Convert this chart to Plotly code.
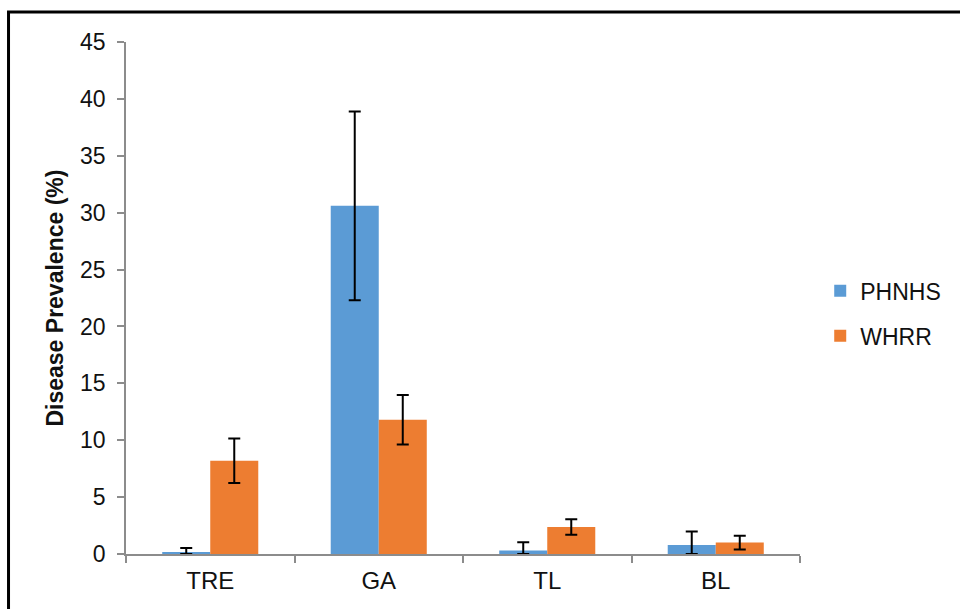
import plotly.graph_objects as go

# Disease prevalence by lesion type for the two sites
categories = ["TRE", "GA", "TL", "BL"]
phnhs = [0.15, 30.6, 0.3, 0.8]
phnhs_err = [0.38, 8.3, 0.73, 1.17]
whrr = [8.2, 11.8, 2.37, 1.0]
whrr_err = [1.95, 2.17, 0.68, 0.6]

BLUE = "#5B9BD5"
ORANGE = "#ED7D31"
AXIS = "#8C8C8C"
FONT = "Liberation Sans, Arial, sans-serif"


def err_bars(vals, errs):
    # Lower whiskers stop at the zero baseline
    return dict(
        type="data",
        symmetric=False,
        array=errs,
        arrayminus=[min(e, v) for v, e in zip(vals, errs)],
        color="black",
        thickness=2,
        width=6,
    )


fig = go.Figure()
fig.add_trace(go.Bar(
    name="PHNHS", x=categories, y=phnhs, marker=dict(color=BLUE, line=dict(width=0)),
    error_y=err_bars(phnhs, phnhs_err), legendgroup="a",
))
fig.add_trace(go.Bar(
    name="WHRR", x=categories, y=whrr, marker=dict(color=ORANGE, line=dict(width=0)),
    error_y=err_bars(whrr, whrr_err), legendgroup="b",
))

fig.update_layout(
    width=960, height=609,
    margin=dict(l=126, r=160, t=42, b=55),
    paper_bgcolor="white", plot_bgcolor="white",
    font=dict(family=FONT, size=22, color="#111111"),
    barmode="group", bargap=0.43, bargroupgap=0,
    showlegend=True,
    legend=dict(
        x=1.03, y=0.47, xanchor="left", yanchor="middle",
        font=dict(size=23, family=FONT, color="#111111"),
        tracegroupgap=12, itemclick=False, bgcolor="rgba(0,0,0,0)",
    ),
    xaxis=dict(
        type="category", range=[-0.5, 3.5],
        showline=True, linecolor=AXIS, linewidth=1.5,
        ticks="outside", tickson="boundaries", ticklen=7, tickcolor=AXIS, tickwidth=1.5,
        showgrid=False, tickfont=dict(size=24), ticklabelstandoff=4,
    ),
    yaxis=dict(
        range=[0, 45], dtick=5, tick0=0,
        showline=True, linecolor=AXIS, linewidth=1.5,
        ticks="outside", ticklen=7, tickcolor=AXIS, tickwidth=1.5,
        showgrid=False, zeroline=False, tickfont=dict(size=23), ticklabelstandoff=7,
    ),
    annotations=[dict(
        text="<b>Disease Prevalence (%)</b>", textangle=-90,
        xref="paper", yref="paper", x=-0.106, y=0.500,
        xanchor="center", yanchor="middle", showarrow=False,
        font=dict(size=23, family=FONT, color="#111"),
    )],
    shapes=[
        # outer frame: left and top edges
        dict(type="line", xref="paper", yref="paper", x0=-0.1743, x1=-0.1743, y0=1.0596, y1=-0.2,
             line=dict(color="black", width=3)),
        dict(type="line", xref="paper", yref="paper", x0=-0.1765, x1=1.3, y0=1.0586, y1=1.0586,
             line=dict(color="black", width=3)),
    ],
)

fig.write_html("out.html")
